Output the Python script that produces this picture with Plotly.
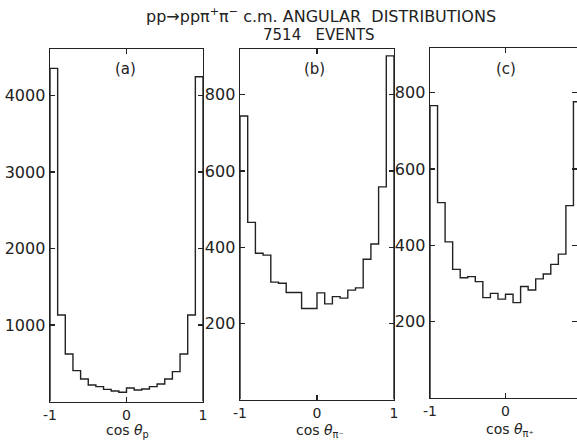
import plotly.graph_objects as go

# ---- data (counts per bin) ----
bin_edges = [-1.0, -0.9, -0.8, -0.7, -0.6, -0.5, -0.4, -0.3, -0.2, -0.1, 0.0,
             0.1, 0.2, 0.3, 0.4, 0.5, 0.6, 0.7, 0.8, 0.9, 1.0]
counts_p = [4355, 1131, 621, 403, 294, 216, 194, 159, 137, 120,
            176, 150, 163, 194, 229, 294, 390, 621, 1131, 4246]
counts_pim = [744, 465, 384, 379, 308, 305, 281, 281, 239, 239,
              280, 251, 270, 266, 287, 293, 368, 408, 558, 902]
counts_pip = [766, 512, 409, 337, 315, 318, 305, 263, 274, 259,
              272, 250, 292, 283, 312, 325, 350, 377, 504, 776]

yticks_a = [1000, 2000, 3000, 4000]
yticks_bc = [200, 400, 600, 800]
xticks = [-1, 0, 1]
xticklabels = ["-1", "0", "1"]

panel_labels = ["(a)", "(b)", "(c)"]
axis_titles = ["cos <i>θ</i><sub>p</sub>", "cos <i>θ</i><sub>π⁻</sub>", "cos <i>θ</i><sub>π⁺</sub>"]
title1 = "pp→ppπ<sup>+</sup>π<sup>−</sup> c.m. ANGULAR\u00a0 DISTRIBUTIONS"
title2 = "7514\u00a0\u00a0 EVENTS"

W, H = 577, 441
INK = "#222222"
FONT = "DejaVu Sans"

def px_x(a, b):
    return [a / W, b / W]

def px_y(top, bottom):
    return [(H - bottom) / H, (H - top) / H]

panels = [
    dict(counts=counts_p, xdom=px_x(50, 203), ydom=px_y(49, 401.5), xr=[-1, 1],
         yr=[0, 4608], yt=yticks_a, lab_x=125, title_x=127, title_y=431),
    dict(counts=counts_pim, xdom=px_x(240, 394), ydom=px_y(49, 399.5), xr=[-1, 1],
         yr=[0, 920], yt=yticks_bc, lab_x=315, title_x=320, title_y=430.5),
    dict(counts=counts_pip, xdom=px_x(430, 577), ydom=px_y(48, 398), xr=[-1, 0.947],
         yr=[0, 917], yt=yticks_bc, lab_x=506, title_x=510, title_y=430),
]

fig = go.Figure()
layout = dict(
    width=W, height=H, margin=dict(l=0, r=0, t=0, b=0, pad=0, autoexpand=False),
    paper_bgcolor="white", plot_bgcolor="white", showlegend=False,
    font=dict(family=FONT, color=INK, size=15),
    template="none",
)
annotations = []

for i, p in enumerate(panels):
    n = "" if i == 0 else str(i + 1)
    c = p["counts"]
    xs = [bin_edges[0]] + bin_edges[:-1] + [bin_edges[-1], bin_edges[-1]]
    ys = [0] + c + [c[-1], 0]
    fig.add_trace(go.Scatter(x=xs, y=ys, mode="lines", line=dict(shape="hv", color=INK, width=1.4),
                             xaxis="x" + n, yaxis="y" + n, hoverinfo="skip"))
    layout["xaxis" + n] = dict(
        domain=p["xdom"], range=p["xr"], anchor="y" + n, automargin=False,
        tickvals=xticks, ticktext=xticklabels, ticks="inside", ticklen=5, tickwidth=1.2,
        tickcolor=INK, showline=True, linecolor=INK, linewidth=1.4, mirror="ticks",
        showgrid=False, zeroline=False, tickfont=dict(size=14, family=FONT, color=INK),
        ticklabelstandoff=0,
    )
    layout["yaxis" + n] = dict(
        domain=p["ydom"], range=p["yr"], anchor="x" + n, automargin=False,
        tickvals=p["yt"], ticks="inside", ticklen=5, tickwidth=1.2,
        tickcolor=INK, showline=True, linecolor=INK, linewidth=1.4, mirror="ticks",
        showgrid=False, zeroline=False, tickfont=dict(size=16, family=FONT, color=INK),
        ticklabelstandoff=0,
    )
    annotations.append(dict(text=panel_labels[i], x=p["lab_x"] / W, y=1 - 69 / H,
                            xref="paper", yref="paper", showarrow=False,
                            xanchor="center", yanchor="middle",
                            font=dict(size=15, family=FONT, color=INK)))
    annotations.append(dict(text=axis_titles[i], x=p["title_x"] / W, y=1 - p["title_y"] / H,
                            xref="paper", yref="paper", showarrow=False,
                            xanchor="center", yanchor="middle",
                            font=dict(size=14, family=FONT, color=INK)))

annotations.append(dict(text=title1, x=321 / W, y=1 - 15 / H, xref="paper", yref="paper",
                        showarrow=False, xanchor="center", yanchor="middle",
                        font=dict(size=16, family=FONT, color=INK)))
annotations.append(dict(text=title2, x=319 / W, y=1 - 35 / H, xref="paper", yref="paper",
                        showarrow=False, xanchor="center", yanchor="middle",
                        font=dict(size=15, family=FONT, color=INK)))
layout["annotations"] = annotations
fig.update_layout(**layout)
fig.write_html(
    "out.html",
    config={"displayModeBar": False, "staticPlot": True},
    post_script="document.body.style.margin='0';document.body.style.padding='0';"
                "document.body.style.overflow='hidden';",
)
